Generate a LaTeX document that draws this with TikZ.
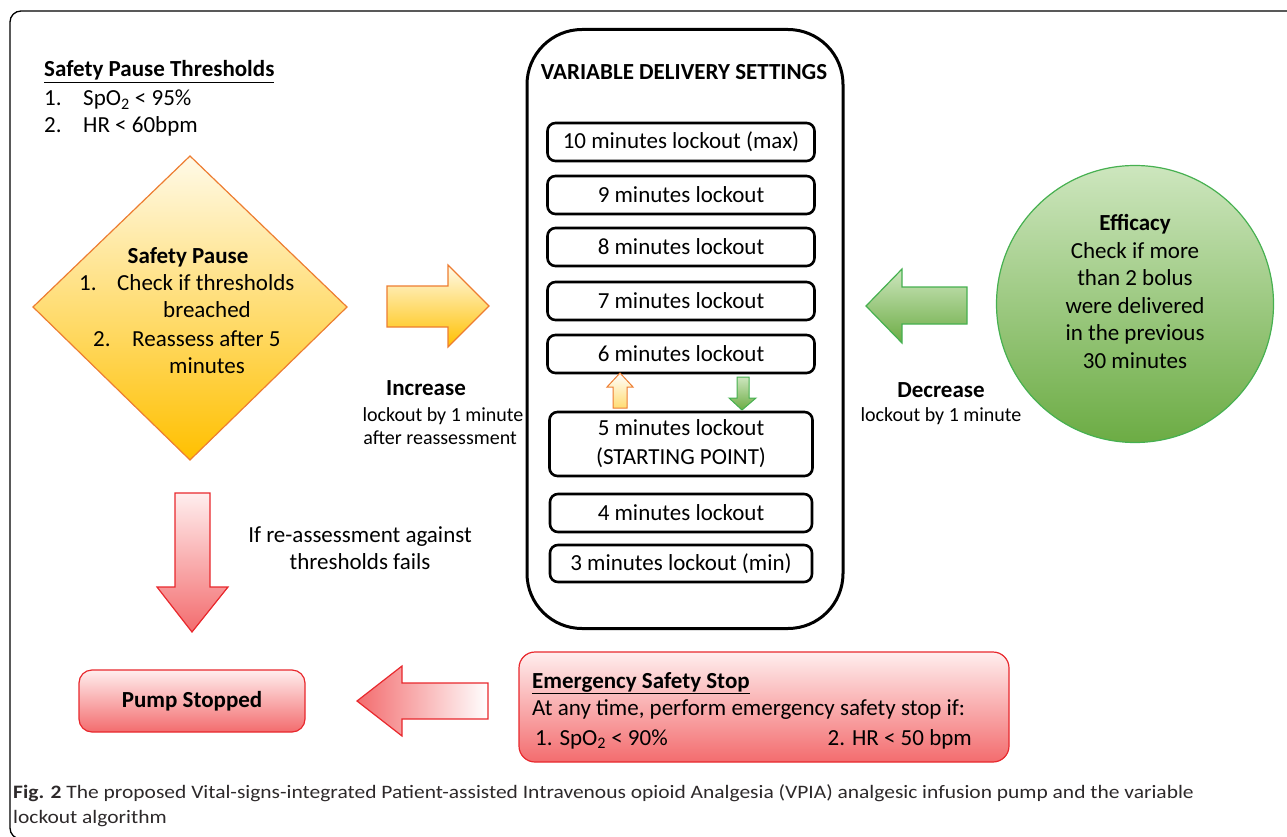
\documentclass[tikz,border=0pt]{standalone}
\usepackage{fontspec}
\setmainfont{Carlito}
\newfontfamily\capfamily[FakeStretch=1.13]{Carlito}
\usetikzlibrary{calc}
\definecolor{orbord}{RGB}{237,125,49}
\definecolor{ytop}{RGB}{255,250,232}
\definecolor{ybot}{RGB}{255,192,0}
\definecolor{gtop}{RGB}{205,230,190}
\definecolor{gbot}{RGB}{108,172,68}
\definecolor{gbord}{RGB}{70,176,80}
\definecolor{rbord}{RGB}{232,40,45}
\definecolor{rtop}{RGB}{255,238,238}
\definecolor{rbot}{RGB}{243,108,110}
\definecolor{captxt}{RGB}{45,41,42}
\newcommand{\bodyfont}{\fontsize{23}{28}\selectfont}
\newcommand{\smallfont}{\fontsize{20}{22}\selectfont}
\newcommand{\capfont}{\capfamily\fontsize{19}{25}\selectfont}
\tikzset{
  txt/.style={inner sep=0pt, font=\bodyfont},
  smalltxt/.style={inner sep=0pt, font=\smallfont},
  lockbox/.style={draw=black, line width=2.6pt, rounded corners=8pt, minimum width=267pt, minimum height=38pt, inner sep=0pt, font=\bodyfont, fill=white},
  yshade/.style={draw=orbord, line width=1.2pt, top color=ytop, bottom color=ybot},
  gshade/.style={draw=gbord, line width=1.2pt, top color=gtop, bottom color=gbot},
  rshade/.style={draw=rbord, line width=1.2pt, top color=rtop, bottom color=rbot},
}
\begin{document}
\begin{tikzpicture}[x=1pt,y=-1pt]
\useasboundingbox (0,0) rectangle (1287,837);
% outer frame
\draw[line width=1.3pt, rounded corners=11pt] (1300,11) -- (10,11) -- (10,839) -- (40,839);

% Safety pause thresholds
\node[txt, anchor=base west] (spt) at (44,77) {\textbf{\underline{Safety Pause Thresholds}}};
\node[txt, anchor=base west] (spt1n) at (44,106) {1.};
\node[txt, anchor=base west] (spt1) at (83,106) {SpO\textsubscript{2} < 95\%};
\node[txt, anchor=base west] (spt2n) at (44,133) {2.};
\node[txt, anchor=base west] (spt2) at (83,133) {HR < 60bpm};

% diamond
\path[yshade] (190,156) -- (347,307) -- (190,460) -- (33,307) -- cycle;
\coordinate (dia) at (190,307);
\node[txt, anchor=base] (sp) at (188,263) {\textbf{Safety Pause}};
\node[txt, anchor=base west] (sp1n) at (79,290) {1.};
\node[txt, anchor=base west] (sp1) at (117,290) {Check if thresholds};
\node[txt, anchor=base west] (sp1b) at (163,317) {breached};
\node[txt, anchor=base west] (sp2n) at (93,346) {2.};
\node[txt, anchor=base west] (sp2) at (132,346) {Reassess after 5};
\node[txt, anchor=base west] (sp2b) at (169,373) {minutes};

% orange right arrow
\path[yshade] (387,286) -- (448,286) -- (448,265) -- (489,306) -- (448,347) -- (448,327) -- (387,327) -- cycle;
\node[txt, anchor=base] (inc) at (426,395) {\textbf{Increase}};
\node[smalltxt, anchor=base] (inc1) at (443,421) {lockout by 1 minute};
\node[smalltxt, anchor=base] (inc2) at (440,444) {after reassessment};

% variable delivery settings
\node[draw=black, line width=3pt, rounded corners=55pt, minimum width=316pt, minimum height=599pt, inner sep=0pt] (vds) at (685,329) {};
\node[txt, anchor=base] (vdst) at (684,80) {\textbf{VARIABLE DELIVERY SETTINGS}};
\node[lockbox] (b10) at (681,142) {10 minutes lockout (max)};
\node[lockbox] (b9) at (681,195) {9 minutes lockout};
\node[lockbox] (b8) at (681,247) {8 minutes lockout};
\node[lockbox] (b7) at (681,301) {7 minutes lockout};
\node[lockbox] (b6) at (681,354) {6 minutes lockout};
\node[lockbox, minimum width=263pt, minimum height=64pt, align=center, font=\fontsize{23}{29}\selectfont] (b5) at (681,444) {5 minutes lockout\\(STARTING POINT)};
\node[lockbox, minimum width=262pt] (b4) at (681,513) {4 minutes lockout};
\node[lockbox, minimum width=262pt, minimum height=37pt] (b3) at (681,563.5) {3 minutes lockout (min)};

% small arrows
\path[draw=orbord, line width=1pt, top color=white, bottom color=ybot!55] (613,408) -- (613,387) -- (607,387) -- (620,373) -- (633,387) -- (627,387) -- (627,408) -- cycle;
\path[gshade, line width=1pt] (737,377) -- (749,377) -- (749,398) -- (756,398) -- (742,410) -- (729,398) -- (737,398) -- cycle;

% green left arrow
\path[gshade] (866,306) -- (902,269) -- (902,287) -- (967,287) -- (967,324) -- (902,324) -- (902,343) -- cycle;
\node[txt, anchor=base] (dec) at (941,397) {\textbf{Decrease}};
\node[smalltxt, anchor=base] (dec1) at (941,421) {lockout by 1 minute};

% efficacy circle
\node[circle, gshade, minimum size=277pt, inner sep=0pt] (eff) at (1135,304) {};
\node[txt, anchor=base] (ef0) at (1135,230) {\textbf{Efficacy}};
\node[txt, anchor=base] (ef1) at (1135,258) {Check if more};
\node[txt, anchor=base] (ef2) at (1135,285) {than 2 bolus};
\node[txt, anchor=base] (ef3) at (1135,313) {were delivered};
\node[txt, anchor=base] (ef4) at (1135,340) {in the previous};
\node[txt, anchor=base] (ef5) at (1135,368) {30 minutes};

% red down arrow
\path[rshade] (175,493) -- (210,493) -- (210,587) -- (228,587) -- (192,632) -- (157,587) -- (175,587) -- cycle;
\node[txt, anchor=base] (fail1) at (360,542) {If re-assessment against};
\node[txt, anchor=base] (fail2) at (360,569) {thresholds fails};

% pump stopped
\node[rshade, rounded corners=13pt, minimum width=226pt, minimum height=62pt, inner sep=0pt, font=\bodyfont] (pump) at (192,701) {\textbf{Pump Stopped}};

% red left arrow
\path[draw=rbord, line width=1.2pt, left color=rbot, right color=white] (357,701) -- (402,666) -- (402,683) -- (488,683) -- (488,719) -- (402,719) -- (402,736) -- cycle;

% emergency
\node[rshade, rounded corners=16pt, minimum width=490pt, minimum height=110pt, inner sep=0pt] (emg) at (764,707) {};
\node[txt, anchor=base west] (emg0) at (532,688) {\textbf{\underline{Emergency Safety Stop}}};
\node[txt, anchor=base west] (emg1) at (532,715) {At any time, perform emergency safety stop if:};
\node[txt, anchor=base west] (emg2) at (535,745) {1. SpO\textsubscript{2} < 90\%};
\node[txt, anchor=base east] (emg3) at (972,745) {2. HR < 50 bpm};

% caption
\node[inner sep=0pt, anchor=base west, font=\capfont, text=captxt] (cap1) at (13,798) {\textbf{Fig. 2} The proposed Vital-signs-integrated Patient-assisted Intravenous opioid Analgesia (VPIA) analgesic infusion pump and the variable};
\node[inner sep=0pt, anchor=base west, font=\capfont, text=captxt] (cap2) at (13,823) {lockout algorithm};
\end{tikzpicture}
\end{document}
